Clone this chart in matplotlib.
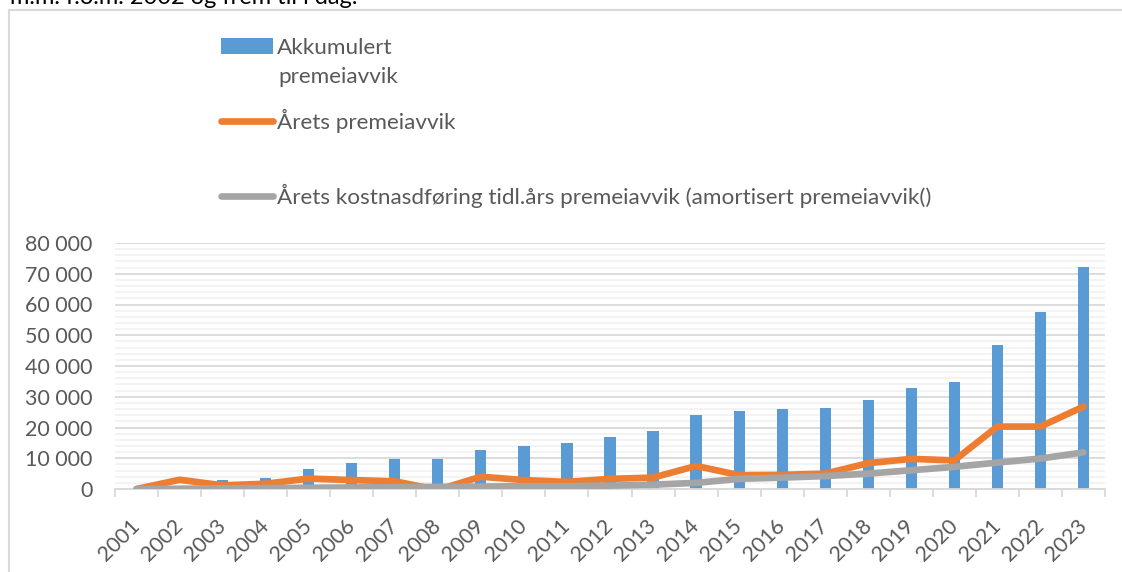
import matplotlib
matplotlib.use("Agg")
import matplotlib.pyplot as plt
from matplotlib.lines import Line2D
from matplotlib.patches import Patch, Rectangle
from matplotlib.ticker import FuncFormatter, MultipleLocator
import numpy as np

years = [str(y) for y in range(2001, 2024)]

# values (approximate)
akkumulert = [0, 0, 3000, 3600, 6600, 8600, 9600, 9600, 12700, 13900, 15000,
              16900, 18900, 24200, 25400, 25900, 26200, 28800, 33000, 34700,
              46700, 57400, 72200]
arets = [0, 3000, 1200, 1700, 3400, 2900, 2500, -300, 4000, 2900, 2300,
         3300, 3700, 7500, 4500, 4600, 5000, 8400, 9800, 9300, 20300,
         20300, 26800]
amortisert = [0, 100, 200, 300, 400, 500, 600, 700, 800, 900, 900,
              1100, 1400, 2000, 3300, 3700, 4200, 5000, 6100, 7200, 8600,
              9900, 11900]

lbl_bar = "Akkumulert"
lbl_bar2 = "premeiavvik"
lbl_orange = "Årets premeiavvik"
lbl_gray = "Årets kostnasdføring tidl.års premeiavvik (amortisert premeiavvik()"

BLUE = "#5B9BD5"
ORANGE = "#ED7D31"
GRAY = "#A5A5A5"
TXT = "#595959"
LW = 4.8

plt.rcParams['font.family'] = ['Lato', 'DejaVu Sans']

W, H = 1122, 572
fig = plt.figure(figsize=(W / 100, H / 100), dpi=100)
ax = fig.add_axes([115 / W, 1 - 489 / H, (1105 - 115) / W, (489 - 243) / H])

x = np.arange(len(years))
ax.bar(x, akkumulert, width=0.26, color=BLUE, zorder=2)
ax.plot(x, arets, color=ORANGE, lw=LW, solid_capstyle='round',
        solid_joinstyle='round', zorder=3)
ax.plot(x, amortisert, color=GRAY, lw=LW, solid_capstyle='round',
        solid_joinstyle='round', zorder=4)

ax.set_xlim(-0.5, len(years) - 0.5)
ax.set_ylim(0, 80000)

ax.yaxis.set_major_locator(MultipleLocator(10000))
ax.yaxis.set_minor_locator(MultipleLocator(2000))
ax.yaxis.set_major_formatter(FuncFormatter(lambda v, p: f"{int(v):,}".replace(",", " ")))
ax.grid(axis='y', which='major', color='#D9D9D9', lw=1.3, zorder=0)
ax.grid(axis='y', which='minor', color='#F2F2F2', lw=1.3, zorder=0)
ax.set_axisbelow(True)

ax.set_xticks(x)
ax.set_xticklabels(years, rotation=45, ha='right', va='center',
                   rotation_mode='anchor')
ax.set_xticks(np.arange(-0.5, len(years)), minor=True)
ax.tick_params(axis='x', which='major', length=0, pad=24, labelsize=15.5,
               labelcolor=TXT)
ax.tick_params(axis='x', which='minor', length=6, width=1.3, color='#D9D9D9')
ax.tick_params(axis='y', which='both', length=0, pad=16, labelsize=15.5,
               labelcolor=TXT)

for s in ['top', 'right', 'left']:
    ax.spines[s].set_visible(False)
ax.spines['bottom'].set_color('#D9D9D9')
ax.spines['bottom'].set_linewidth(1.3)

# legend entries, stacked like the original
LEG_FS = 16.2


def add_entry(handle, label, ypix):
    leg = fig.legend([handle], [label], loc='center left',
                     bbox_to_anchor=(221 / W, 1 - ypix / H), frameon=False,
                     fontsize=LEG_FS, handlelength=2.3, handletextpad=0.2,
                     borderpad=0, borderaxespad=0, labelcolor=TXT)
    return leg


add_entry(Patch(facecolor=BLUE, edgecolor='none'), lbl_bar, 48)
fig.text(278 / W, 1 - 77 / H, lbl_bar2, fontsize=LEG_FS, color=TXT,
         va='center', ha='left')
add_entry(Line2D([], [], color=ORANGE, lw=LW, solid_capstyle='round'), lbl_orange, 121)
add_entry(Line2D([], [], color=GRAY, lw=LW, solid_capstyle='round'), lbl_gray, 196)

# chart frame and clipped caption line from the page
fig.patches.append(Rectangle((9 / W, -0.1), 1.2, 1 - 10 / H + 0.1,
                             transform=fig.transFigure, fill=False,
                             edgecolor='#D9D9D9', lw=1.5))
fig.text(10 / W, 1 - 4 / H, "m.m. f.o.m. 2002 og frem til i dag.", fontsize=17,
         color='black', va='baseline', ha='left')

fig.savefig("out.png", dpi=100)
